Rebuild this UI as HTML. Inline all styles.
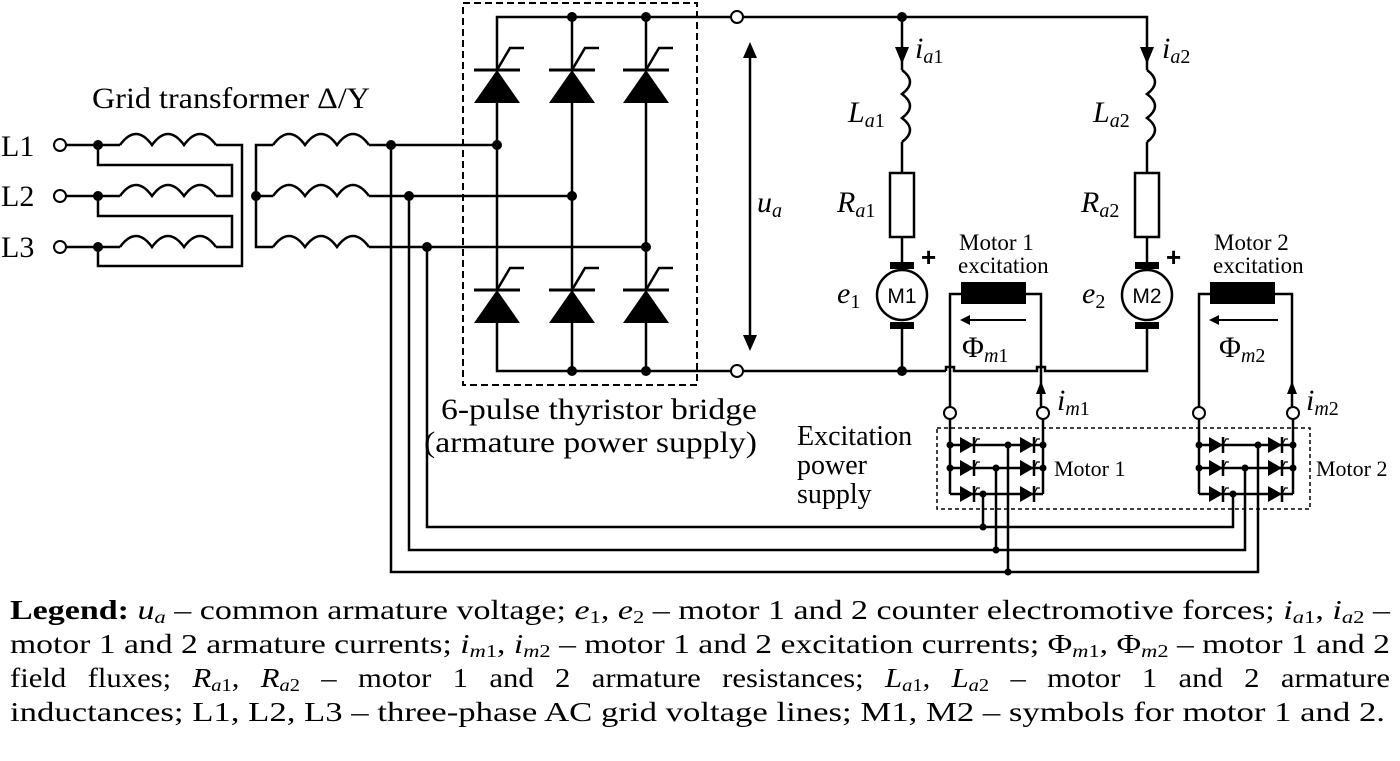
<!DOCTYPE html>
<html><head><meta charset="utf-8"><style>
html,body{margin:0;padding:0;background:#fff;}
svg{display:block;font-family:"Liberation Serif",serif;}
</style></head><body>
<svg width="1400" height="761" viewBox="0 0 1400 761" xmlns="http://www.w3.org/2000/svg">
<defs>
<g id="thy"><polygon points="-23,33 23,33 0,0" fill="#000"/><line x1="-23" y1="0" x2="23" y2="0" stroke="#000" stroke-width="3"/><polyline points="0,0 13,-22 27,-22" fill="none" stroke="#000" stroke-width="2.5"/></g>
<g id="sd"><polygon points="0,-8 0,8 14,0" fill="#000"/><line x1="14" y1="-8" x2="14" y2="8" stroke="#000" stroke-width="2.5"/><polyline points="14,0 17,-6 20,-6" fill="none" stroke="#000" stroke-width="1.2"/></g>
<g id="coil"><path d="M0,0 q16,-22 32,0 q16,-22 32,0 q16,-22 32,0" fill="none" stroke="#000" stroke-width="2.5"/></g>
<g id="vcoil"><path d="M0,0 q16,12 0,24 q16,12 0,24 q16,12 0,24" fill="none" stroke="#000" stroke-width="2.5"/></g>
</defs>
<g stroke="#000" stroke-width="2.5" fill="none">
<line x1="66" y1="145" x2="120" y2="145"/><line x1="66" y1="196" x2="120" y2="196"/><line x1="66" y1="247" x2="120" y2="247"/>
<use href="#coil" x="120" y="145"/><use href="#coil" x="120" y="196"/><use href="#coil" x="120" y="247"/>
<polyline points="216,145 242,145 242,266 98,266 98,247"/>
<polyline points="98,145 98,165 232,165 232,196 216,196"/>
<polyline points="98,196 98,216 232,216 232,247 216,247"/>
<polyline points="273,145 256,145 256,247 273,247"/><line x1="256" y1="196" x2="273" y2="196"/>
<use href="#coil" x="273" y="145"/><use href="#coil" x="273" y="196"/><use href="#coil" x="273" y="247"/>
<line x1="369" y1="145" x2="497" y2="145"/><line x1="369" y1="196" x2="572" y2="196"/><line x1="369" y1="247" x2="646" y2="247"/>
<polyline points="391,145 391,572 1258,572 1258,445"/>
<polyline points="409,196 409,550 1245,550 1245,468"/>
<polyline points="427,247 427,527 1233,527 1233,494"/>
<polyline points="497,70 497,17 731,17"/><line x1="572" y1="17" x2="572" y2="70"/><line x1="646" y1="17" x2="646" y2="70"/>
<line x1="497" y1="103" x2="497" y2="290"/><line x1="572" y1="103" x2="572" y2="290"/><line x1="646" y1="103" x2="646" y2="290"/>
<polyline points="497,323 497,371 731,371"/><line x1="572" y1="323" x2="572" y2="371"/><line x1="646" y1="323" x2="646" y2="371"/>
<rect x="463" y="3" width="234" height="382" stroke-dasharray="7,4" stroke-width="2"/>
<polyline points="743,17 1147,17 1147,70"/>
<line x1="743" y1="371" x2="946" y2="371"/><path d="M946,371 v-4 h8 v4 h83 v-4 h8 v4 h102 V326"/>
<line x1="750" y1="58" x2="750" y2="335"/>
<line x1="902" y1="17" x2="902" y2="70"/><use href="#vcoil" x="902" y="70"/><line x1="902" y1="142" x2="902" y2="173"/>
<rect x="890" y="173" width="24" height="64"/><line x1="902" y1="237" x2="902" y2="262"/>
<circle cx="902" cy="295" r="25"/><line x1="902" y1="328" x2="902" y2="371"/>
<use href="#vcoil" x="1147" y="70"/><line x1="1147" y1="142" x2="1147" y2="173"/>
<rect x="1135" y="173" width="24" height="64"/><line x1="1147" y1="237" x2="1147" y2="262"/>
<circle cx="1147" cy="295" r="25"/>
<polyline points="961,294 950,294 950,407"/><polyline points="1026,294 1041,294 1041,407"/>
<line x1="1026" y1="320" x2="965" y2="320" stroke-width="2"/>
<polyline points="1210,294 1199,294 1199,407"/><polyline points="1275,294 1292,294 1292,407"/>
<line x1="1278" y1="320" x2="1214" y2="320" stroke-width="2"/>
<line x1="950" y1="419" x2="950" y2="494"/><line x1="1043" y1="419" x2="1043" y2="494"/>
<line x1="950" y1="445" x2="1043" y2="445"/><line x1="950" y1="468" x2="1043" y2="468"/><line x1="950" y1="494" x2="1043" y2="494"/>
<line x1="1008" y1="445" x2="1008" y2="572"/><line x1="996" y1="468" x2="996" y2="550"/><line x1="983" y1="494" x2="983" y2="527"/>
<line x1="1199" y1="419" x2="1199" y2="494"/><line x1="1293" y1="419" x2="1293" y2="494"/>
<line x1="1199" y1="445" x2="1293" y2="445"/><line x1="1199" y1="468" x2="1293" y2="468"/><line x1="1199" y1="494" x2="1293" y2="494"/>
<rect x="937" y="428" width="373" height="81" stroke-dasharray="4,3" stroke-width="1.5"/>
</g>
<use href="#thy" x="497" y="70"/><use href="#thy" x="572" y="70"/><use href="#thy" x="646" y="70"/>
<use href="#thy" x="497" y="290"/><use href="#thy" x="572" y="290"/><use href="#thy" x="646" y="290"/>
<use href="#sd" x="960" y="445"/><use href="#sd" x="960" y="468"/><use href="#sd" x="960" y="494"/>
<use href="#sd" x="1020" y="445"/><use href="#sd" x="1020" y="468"/><use href="#sd" x="1020" y="494"/>
<use href="#sd" x="1209" y="445"/><use href="#sd" x="1209" y="468"/><use href="#sd" x="1209" y="494"/>
<use href="#sd" x="1268" y="445"/><use href="#sd" x="1268" y="468"/><use href="#sd" x="1268" y="494"/>
<g fill="#000">
<circle cx="98" cy="145" r="5"/><circle cx="98" cy="196" r="5"/><circle cx="98" cy="247" r="5"/><circle cx="256" cy="196" r="5"/>
<circle cx="391" cy="145" r="5"/><circle cx="409" cy="196" r="5"/><circle cx="427" cy="247" r="5"/>
<circle cx="497" cy="145" r="5"/><circle cx="572" cy="196" r="5"/><circle cx="646" cy="247" r="5"/>
<circle cx="572" cy="17" r="5"/><circle cx="646" cy="17" r="5"/><circle cx="572" cy="371" r="5"/><circle cx="646" cy="371" r="5"/>
<circle cx="902" cy="17" r="5"/><circle cx="902" cy="371" r="5"/>
<circle cx="950" cy="445" r="3.5"/><circle cx="950" cy="468" r="3.5"/><circle cx="1043" cy="445" r="3.5"/><circle cx="1043" cy="468" r="3.5"/>
<circle cx="1008" cy="445" r="3.5"/><circle cx="996" cy="468" r="3.5"/><circle cx="983" cy="494" r="3.5"/>
<circle cx="1199" cy="445" r="3.5"/><circle cx="1199" cy="468" r="3.5"/><circle cx="1293" cy="445" r="3.5"/><circle cx="1293" cy="468" r="3.5"/>
<circle cx="1258" cy="445" r="3.5"/><circle cx="1245" cy="468" r="3.5"/><circle cx="1233" cy="494" r="3.5"/>
<circle cx="983" cy="527" r="3.5"/><circle cx="996" cy="550" r="3.5"/><circle cx="1008" cy="572" r="3.5"/>
<rect x="890" y="262" width="24" height="7"/><rect x="890" y="322" width="24" height="7"/>
<rect x="1135" y="262" width="24" height="7"/><rect x="1135" y="322" width="24" height="7"/>
<rect x="961" y="282" width="65" height="22"/><rect x="1210" y="282" width="65" height="22"/>
<polygon points="895,47 909,47 902,64"/><polygon points="1140,47 1154,47 1147,64"/>
<polygon points="743,58 757,58 750,42"/><polygon points="743,335 757,335 750,351"/>
<polygon points="960,320 970,315 970,325"/><polygon points="1209,320 1219,315 1219,325"/>
<polygon points="1036,394 1046,394 1041,381"/><polygon points="1287,394 1297,394 1292,381"/>
</g>
<g fill="#fff" stroke="#000" stroke-width="2">
<circle cx="60" cy="145" r="6"/><circle cx="60" cy="196" r="6"/><circle cx="60" cy="247" r="6"/>
<circle cx="737" cy="17" r="6"/><circle cx="737" cy="371" r="6"/>
<circle cx="950" cy="413" r="6"/><circle cx="1043" cy="413" r="6"/><circle cx="1199" cy="413" r="6"/><circle cx="1293" cy="413" r="6"/>
</g>
<g font-size="30" fill="#000">
<text x="92" y="108" textLength="278" lengthAdjust="spacingAndGlyphs">Grid transformer Δ/Y</text>
<text x="1" y="156">L1</text><text x="1" y="206">L2</text><text x="1" y="257">L3</text>
<text x="441" y="419" textLength="316" lengthAdjust="spacingAndGlyphs">6-pulse thyristor bridge</text>
<text x="424" y="452" textLength="333" lengthAdjust="spacingAndGlyphs">(armature power supply)</text>
<g font-size="28"><text x="797" y="445">Excitation</text><text x="797" y="474">power</text><text x="797" y="503">supply</text></g>
<text x="757" y="212" font-style="italic" font-size="30">u<tspan font-size="20" dy="5">a</tspan></text>
<text x="915" y="58" font-style="italic" font-size="30">i<tspan font-size="20" dy="5">a</tspan><tspan font-size="20" font-style="normal">1</tspan></text>
<text x="1162" y="58" font-style="italic" font-size="30">i<tspan font-size="20" dy="5">a</tspan><tspan font-size="20" font-style="normal">2</tspan></text>
<text x="848" y="122" font-style="italic" font-size="30">L<tspan font-size="20" dy="5">a</tspan><tspan font-size="20" font-style="normal">1</tspan></text>
<text x="1093" y="122" font-style="italic" font-size="30">L<tspan font-size="20" dy="5">a</tspan><tspan font-size="20" font-style="normal">2</tspan></text>
<text x="837" y="212" font-style="italic" font-size="30">R<tspan font-size="20" dy="5">a</tspan><tspan font-size="20" font-style="normal">1</tspan></text>
<text x="1081" y="212" font-style="italic" font-size="30">R<tspan font-size="20" dy="5">a</tspan><tspan font-size="20" font-style="normal">2</tspan></text>
<text x="837" y="303" font-style="italic" font-size="30">e<tspan font-size="20" font-style="normal" dy="5">1</tspan></text>
<text x="1082" y="303" font-style="italic" font-size="30">e<tspan font-size="20" font-style="normal" dy="5">2</tspan></text>
<text x="902" y="303" font-family="Liberation Sans,sans-serif" font-size="21" text-anchor="middle">M1</text>
<text x="1147" y="303" font-family="Liberation Sans,sans-serif" font-size="21" text-anchor="middle">M2</text>
<text x="921" y="266" font-size="26" font-weight="bold" font-family="Liberation Sans,sans-serif">+</text>
<text x="1166" y="266" font-size="26" font-weight="bold" font-family="Liberation Sans,sans-serif">+</text>
<g font-size="23"><text x="959" y="250">Motor 1</text><text x="958" y="273">excitation</text>
<text x="1214" y="250">Motor 2</text><text x="1213" y="273">excitation</text></g>
<text x="962" y="357" font-size="30">Φ<tspan font-style="italic" font-size="20" dy="5">m</tspan><tspan font-size="20">1</tspan></text>
<text x="1219" y="357" font-size="30">Φ<tspan font-style="italic" font-size="20" dy="5">m</tspan><tspan font-size="20">2</tspan></text>
<text x="1057" y="410" font-style="italic" font-size="30">i<tspan font-size="20" dy="5">m</tspan><tspan font-size="20" font-style="normal">1</tspan></text>
<text x="1306" y="410" font-style="italic" font-size="30">i<tspan font-size="20" dy="5">m</tspan><tspan font-size="20" font-style="normal">2</tspan></text>
<g font-size="22"><text x="1054" y="476">Motor 1</text><text x="1316" y="476">Motor 2</text></g>
</g>
<g font-size="27" fill="#000">
<text x="10" y="619" textLength="1380" lengthAdjust="spacingAndGlyphs"><tspan font-weight="bold">Legend:</tspan> <tspan font-style="italic">u</tspan><tspan font-style="italic" font-size="18" dy="4">a</tspan><tspan dy="-4"> – common armature voltage; </tspan><tspan font-style="italic">e</tspan><tspan font-size="18" dy="4">1</tspan><tspan dy="-4">, </tspan><tspan font-style="italic">e</tspan><tspan font-size="18" dy="4">2</tspan><tspan dy="-4"> – motor 1 and 2 counter electromotive forces; </tspan><tspan font-style="italic">i</tspan><tspan font-style="italic" font-size="18" dy="4">a</tspan><tspan font-size="18">1</tspan><tspan dy="-4">, </tspan><tspan font-style="italic">i</tspan><tspan font-style="italic" font-size="18" dy="4">a</tspan><tspan font-size="18">2</tspan><tspan dy="-4"> –</tspan></text>
<text x="10" y="653" textLength="1380" lengthAdjust="spacingAndGlyphs">motor 1 and 2 armature currents; <tspan font-style="italic">i</tspan><tspan font-style="italic" font-size="18" dy="4">m</tspan><tspan font-size="18">1</tspan><tspan dy="-4">, </tspan><tspan font-style="italic">i</tspan><tspan font-style="italic" font-size="18" dy="4">m</tspan><tspan font-size="18">2</tspan><tspan dy="-4"> – motor 1 and 2 excitation currents; Φ</tspan><tspan font-style="italic" font-size="18" dy="4">m</tspan><tspan font-size="18">1</tspan><tspan dy="-4">, Φ</tspan><tspan font-style="italic" font-size="18" dy="4">m</tspan><tspan font-size="18">2</tspan><tspan dy="-4"> – motor 1 and 2</tspan></text>
<text x="10" y="687" font-size="27" word-spacing="12" textLength="1380" lengthAdjust="spacingAndGlyphs">field fluxes; <tspan font-style="italic">R</tspan><tspan font-style="italic" font-size="18" dy="4">a</tspan><tspan font-size="18">1</tspan><tspan dy="-4">, </tspan><tspan font-style="italic">R</tspan><tspan font-style="italic" font-size="18" dy="4">a</tspan><tspan font-size="18">2</tspan><tspan dy="-4"> – motor 1 and 2 armature resistances; </tspan><tspan font-style="italic">L</tspan><tspan font-style="italic" font-size="18" dy="4">a</tspan><tspan font-size="18">1</tspan><tspan dy="-4">, </tspan><tspan font-style="italic">L</tspan><tspan font-style="italic" font-size="18" dy="4">a</tspan><tspan font-size="18">2</tspan><tspan dy="-4"> – motor 1 and 2 armature</tspan></text>
<text x="10" y="721" textLength="1375" lengthAdjust="spacingAndGlyphs">inductances; L1, L2, L3 – three-phase AC grid voltage lines; M1, M2 – symbols for motor 1 and 2.</text>
</g>
</svg>
</body></html>
